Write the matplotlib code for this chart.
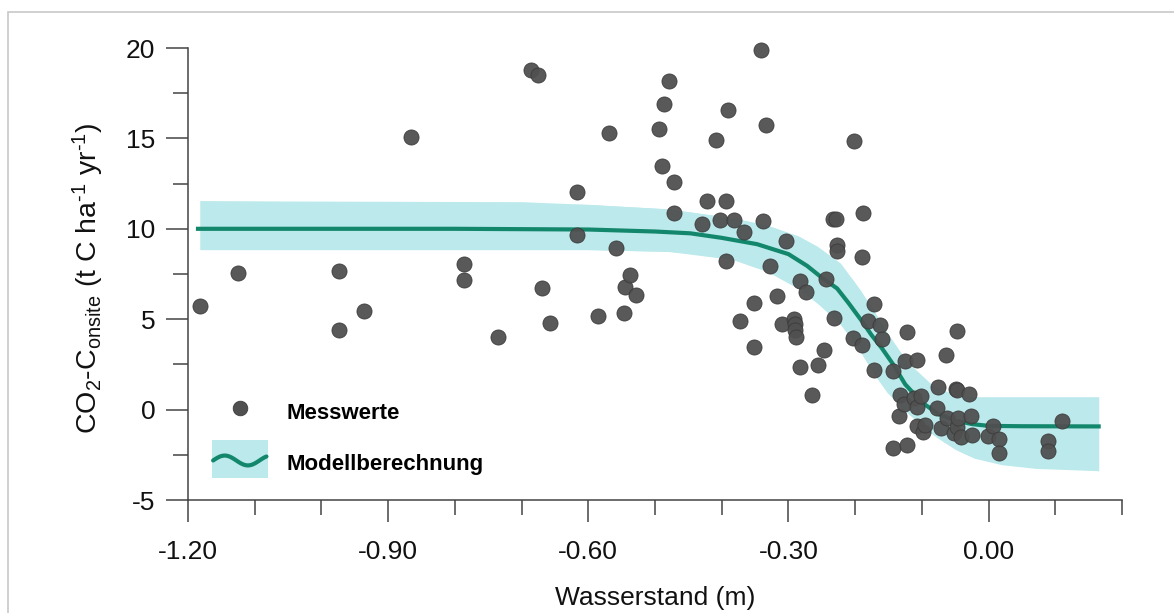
import numpy as np
import matplotlib
matplotlib.use("Agg")
import matplotlib.pyplot as plt
from matplotlib.patches import Rectangle
from matplotlib.lines import Line2D
from matplotlib.legend_handler import HandlerBase
from matplotlib.ticker import MultipleLocator, FuncFormatter

plt.rcParams['font.family'] = ['Liberation Sans', 'DejaVu Sans']
plt.rcParams['axes.unicode_minus'] = False
plt.rcParams['mathtext.fontset'] = 'custom'
plt.rcParams['mathtext.rm'] = 'Liberation Sans'
plt.rcParams['mathtext.it'] = 'Liberation Sans'

# measured values (water level in m, CO2-C in t C/ha/yr)
mess_x = [-1.182, -1.125, -0.973, -0.973, -0.936, -0.866, -0.787, -0.787, -0.736, -0.686,
          -0.675, -0.670, -0.658, -0.617, -0.617, -0.586, -0.569, -0.559, -0.546, -0.545,
          -0.537, -0.529, -0.494, -0.490, -0.486, -0.479, -0.471, -0.471, -0.429, -0.422,
          -0.408, -0.402, -0.394, -0.393, -0.391, -0.381, -0.372, -0.366, -0.352, -0.351,
          -0.341, -0.338, -0.334, -0.328, -0.317, -0.310, -0.304, -0.291, -0.290, -0.290,
          -0.289, -0.283, -0.282, -0.274, -0.265, -0.255, -0.247, -0.243, -0.233, -0.228,
          -0.232, -0.227, -0.227, -0.203, -0.202, -0.189, -0.189, -0.188, -0.180, -0.172,
          -0.172, -0.162, -0.160, -0.144, -0.143, -0.134, -0.133, -0.127, -0.126, -0.123,
          -0.122, -0.112, -0.108, -0.108, -0.107, -0.101, -0.098, -0.096, -0.078, -0.076,
          -0.072, -0.064, -0.062, -0.052, -0.049, -0.048, -0.047, -0.047, -0.046, -0.042,
          -0.030, -0.027, -0.025, -0.001, 0.006, 0.015, 0.015, 0.089, 0.089, 0.110]
mess_y = [5.72, 7.53, 7.69, 4.39, 5.44, 15.1, 8.08, 7.16, 4.0, 18.8,
          18.5, 6.70, 4.81, 12.05, 9.63, 5.16, 15.3, 8.93, 5.35, 6.79,
          7.43, 6.36, 15.5, 13.5, 16.9, 18.2, 12.6, 10.9, 10.26, 11.53,
          14.92, 10.46, 8.21, 11.55, 16.56, 10.48, 4.89, 9.81, 5.88, 3.47,
          19.87, 10.44, 15.75, 7.93, 6.31, 4.74, 9.31, 5.02, 4.74, 4.43,
          4.0, 7.12, 2.36, 6.53, 0.83, 2.45, 3.32, 7.23, 10.55, 10.55,
          5.05, 9.13, 8.76, 3.97, 14.83, 8.45, 3.6, 10.85, 4.89, 5.85,
          2.21, 4.70, 3.93, -2.12, 2.12, -0.37, 0.83, 0.31, 2.67, 4.28,
          -1.98, 0.65, 0.15, -0.89, 2.77, 0.74, -1.25, -0.83, 0.09, 1.25,
          -1.01, 3.04, -0.46, -1.29, 1.15, 4.33, 1.07, -0.96, -0.46, -1.51,
          0.89, -0.37, -1.38, -1.47, -0.92, -1.62, -2.40, -1.75, -2.31, -0.65]

# model curve
model_x = [-1.185, -0.80, -0.60, -0.50, -0.447, -0.40, -0.347, -0.30, -0.272, -0.25,
           -0.227, -0.21, -0.19, -0.175, -0.16, -0.143, -0.125, -0.10, -0.075, -0.05,
           -0.025, 0.0, 0.05, 0.165]
model_y = [10.0, 10.0, 9.96, 9.85, 9.75, 9.5, 9.15, 8.6, 7.95, 7.3,
           6.7, 5.9, 4.9, 4.1, 3.4, 2.5, 1.4, 0.4, -0.25, -0.6,
           -0.8, -0.9, -0.92, -0.93]

# uncertainty band edges
upper_x = [-1.182, -0.70, -0.60, -0.48, -0.383, -0.332, -0.285, -0.257, -0.222, -0.192,
           -0.167, -0.143, -0.117, -0.092, -0.068, -0.042, -0.02, 0.165]
upper_y = [11.55, 11.5, 11.35, 11.1, 10.6, 10.2, 9.6, 9.04, 8.1, 6.6,
           5.16, 3.7, 2.4, 1.5, 1.0, 0.75, 0.7, 0.7]
lower_x = [-1.182, -0.60, -0.48, -0.432, -0.383, -0.332, -0.282, -0.232, -0.203, -0.173,
           -0.152, -0.122, -0.083, -0.05, -0.02, 0.02, 0.07, 0.165]
lower_y = [8.85, 8.85, 8.75, 8.6, 8.3, 7.65, 6.64, 5.16, 3.87, 2.04,
           0.94, -0.17, -1.4, -2.2, -2.7, -3.05, -3.25, -3.38]

BAND = '#bce9ec'
LINE = '#13876c'
DOT = '#505050'
AXC = '#444444'


class HandlerBandLine(HandlerBase):
    def create_artists(self, legend, orig_handle, xdescent, ydescent,
                       width, height, fontsize, trans):
        r = Rectangle((-xdescent, -ydescent), width, height + ydescent,
                      facecolor=BAND, edgecolor='none', transform=trans)
        mid = -ydescent + 0.5 * (height + ydescent)
        t = np.linspace(0, 1, 60)
        xs = -xdescent + width * (0.02 + 0.96 * t)
        ys = mid - 0.05 * height + 0.16 * height * np.sin(2.3 * np.pi * t)
        ln = Line2D(xs, ys, color=LINE, lw=3, solid_capstyle='round', transform=trans)
        return [r, ln]


fig = plt.figure(figsize=(11.74, 6.13), dpi=100)
fig.patches.append(Rectangle((8 / 1174, -0.05), 1.1, 0.05 + 601 / 613,
                             transform=fig.transFigure, facecolor='none',
                             edgecolor='#c8c8c8', lw=1.2))
ax = fig.add_axes([188 / 1174, 113 / 613, 934 / 1174, 452 / 613])

ax.fill_between(upper_x, upper_y, np.interp(upper_x, lower_x, lower_y), color=BAND, lw=0)
ax.fill_between(lower_x, np.interp(lower_x, upper_x, upper_y), lower_y, color=BAND, lw=0)
ax.plot(model_x, model_y, color=LINE, lw=3)
ax.scatter(mess_x, mess_y, s=118, facecolor=DOT, edgecolor='#3a3a3a', linewidth=0.6,
           alpha=0.95, zorder=3, clip_on=False)

ax.set_xlim(-1.2, 0.2)
ax.set_ylim(-5, 20)
for s in ['top', 'right']:
    ax.spines[s].set_visible(False)
for s in ['left', 'bottom']:
    ax.spines[s].set_color(AXC)
    ax.spines[s].set_linewidth(1.1)

ax.xaxis.set_major_locator(MultipleLocator(0.3))
ax.xaxis.set_minor_locator(MultipleLocator(0.1))
ax.yaxis.set_major_locator(MultipleLocator(5))
ax.yaxis.set_minor_locator(MultipleLocator(2.5))
ax.xaxis.set_major_formatter(FuncFormatter(lambda v, p: '%.2f' % (0 if abs(v) < 1e-9 else v)))
ax.yaxis.set_major_formatter(FuncFormatter(lambda v, p: '%d' % round(v)))
ax.tick_params(which='major', length=15.5, width=1.1, color=AXC, labelsize=19, labelcolor='#111111')
ax.tick_params(which='minor', length=10.5, width=1.1, color=AXC)
ax.tick_params(axis='x', which='major', pad=13)
ax.tick_params(axis='y', which='major', pad=8)

ax.set_xlabel('Wasserstand (m)', fontsize=19, color='#111111')
ax.xaxis.set_label_coords(0.5, -0.19)
ax.set_ylabel(r'CO$_2$-C$_{\mathrm{onsite}}$ (t C ha$^{\text{-1}}$ yr$^{\text{-1}}$)',
              fontsize=20.5, color='#111111')
ax.yaxis.set_label_coords(-0.088, 0.49)

h_dot = Line2D([], [], ls='none', marker='o', markersize=10.5, markerfacecolor=DOT,
               markeredgecolor='#3a3a3a', markeredgewidth=0.6)
h_model = (Rectangle((0, 0), 1, 1), Line2D([], []))
leg = ax.legend([h_dot, h_model], ['Messwerte', 'Modellberechnung'],
                handler_map={tuple: HandlerBandLine()},
                loc='upper left', bbox_to_anchor=(24 / 934, 103.5 / 452),
                frameon=False, borderpad=0, borderaxespad=0,
                handlelength=2.5, handleheight=1.75, handletextpad=0.85,
                labelspacing=0.92, prop={'size': 16, 'weight': 'bold'})

fig.savefig('out.png', dpi=100)
